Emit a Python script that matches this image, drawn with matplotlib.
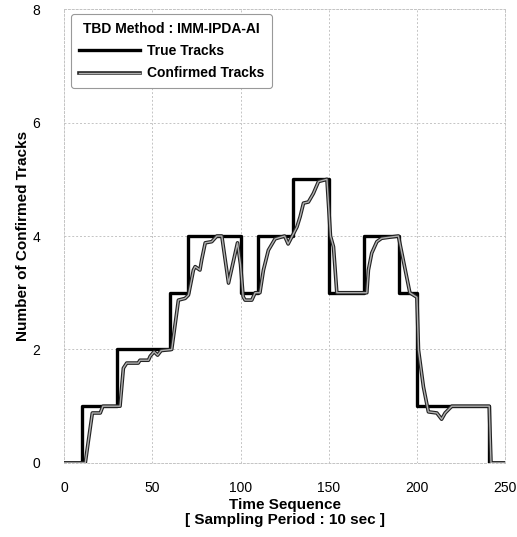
import numpy as np
import matplotlib.pyplot as plt
import matplotlib.patheffects as pe

plt.rcParams['font.family'] = ['Liberation Sans', 'DejaVu Sans']

# true number of tracks (step changes)
true_t = [0, 10, 30, 60, 70, 100, 110, 130, 150, 170, 190, 200, 241, 250]
true_n = [0, 1, 2, 3, 4, 3, 4, 5, 3, 4, 3, 1, 0, 0]

# confirmed tracks
conf_t = [0, 12, 16, 20.5, 22, 31.7, 33.6, 35.5, 42, 43, 47.8, 48.8, 51, 53, 55, 61,
          64.8, 68.6, 70.5, 71.4, 73.3, 74.3, 77, 78, 80, 83.7, 86.6, 89.4, 93.2,
          98.3, 100, 101.5, 102.6, 106.4, 108.3, 111, 113, 115.8, 119.6, 125, 127,
          129, 132, 133.8, 135.7, 138.5, 141.3, 144.2, 149, 151, 152.7, 154.6,
          171.6, 172.5, 174.4, 177.3, 180, 189.5, 196, 200, 200.9, 203.7, 206.5,
          211.3, 214, 216, 219.8, 241, 242, 250]
conf_n = [0, 0, 0.88, 0.88, 1.0, 1.0, 1.67, 1.76, 1.76, 1.81, 1.81, 1.88, 1.96, 1.9, 1.98, 2.0,
          2.87, 2.9, 2.96, 3.1, 3.4, 3.46, 3.4, 3.58, 3.88, 3.9, 4.0, 4.0, 3.17,
          3.88, 3.5, 2.93, 2.87, 2.87, 3.0, 3.0, 3.4, 3.75, 3.95, 4.0, 3.86,
          3.98, 4.16, 4.34, 4.58, 4.6, 4.75, 4.96, 5.0, 4.0, 3.81, 3.0,
          3.0, 3.4, 3.7, 3.9, 3.96, 4.0, 3.0, 2.92, 1.99, 1.34, 0.9,
          0.88, 0.77, 0.88, 1.0, 1.0, 0, 0]

fig = plt.figure(figsize=(5.17, 5.37), dpi=100)
ax = fig.add_axes([0.124, 0.138, 0.853, 0.845])

ax.plot(true_t, true_n, drawstyle='steps-post', color='black', lw=2.4,
        label='True Tracks', zorder=3)
ax.plot(conf_t, conf_n, color='#b0b0b0', lw=1.0, label='Confirmed Tracks', zorder=4,
        path_effects=[pe.Stroke(linewidth=2.6, foreground='#222222'), pe.Normal()])

ax.set_xlim(0, 250)
ax.set_ylim(0, 8)
ax.set_xticks([0, 50, 100, 150, 200, 250])
ax.set_yticks([0, 2, 4, 6, 8])
ax.tick_params(length=0, labelsize=10)
ax.tick_params(axis='x', pad=13)
ax.tick_params(axis='y', pad=17)
ax.grid(True, color='#c4c4c4', linestyle=(0, (2, 2)), lw=0.7)
for s in ax.spines.values():
    s.set_color('#c4c4c4')
    s.set_linestyle((0, (2, 2)))
    s.set_linewidth(0.7)

ax.set_xlabel('Time Sequence\n[ Sampling Period : 10 sec ]', fontsize=11,
              fontweight='bold', labelpad=2, linespacing=1.1)
ax.set_ylabel('Number of Confirmed Tracks', fontsize=11, fontweight='bold', labelpad=2)

leg = ax.legend(loc='upper left', bbox_to_anchor=(0.01, 0.995), title='TBD Method : IMM-IPDA-AI',
                prop={'weight': 'bold', 'size': 10}, handlelength=4.4,
                borderpad=0.55, labelspacing=0.6, handletextpad=0.5, fancybox=True,
                framealpha=1, borderaxespad=0.2)
leg.get_title().set_fontweight('bold')
leg.get_title().set_fontsize(10)
leg.get_frame().set_edgecolor('#999999')
leg.get_frame().set_linewidth(0.8)

fig.savefig('out.png', dpi=100)
